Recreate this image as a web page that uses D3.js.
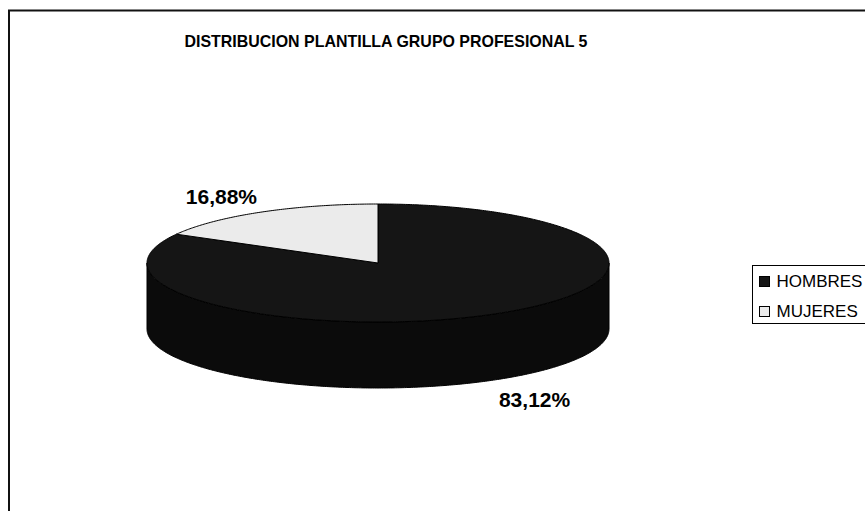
<!DOCTYPE html>
<html>
<head>
<meta charset="utf-8">
<script src="https://cdn.jsdelivr.net/npm/d3@7"></script>
<style>
  body { margin: 0; background: #fff; }
  text { font-family: Arial, "Liberation Sans", sans-serif; }
</style>
</head>
<body>
<script>
var categories = ["HOMBRES", "MUJERES"];
var values = [83.12, 16.88];
var labels = ["83,12%", "16,88%"];
var colors = ["#151515", "#ebebeb"];
var sideColors = ["#0b0b0b", "#c8c8c8"];

var width = 865;
var height = 511;

var svg = d3.select("body").append("svg")
    .attr("width", width)
    .attr("height", height);

// chart frame (runs off the right and bottom edge)
svg.append("rect")
    .attr("x", 9).attr("y", 10.5)
    .attr("width", 900).attr("height", 540)
    .attr("fill", "#fff")
    .attr("stroke", "#111")
    .attr("stroke-width", 2);

svg.append("text")
    .attr("x", 386).attr("y", 46.5)
    .attr("text-anchor", "middle")
    .attr("textLength", 403)
    .attr("lengthAdjust", "spacingAndGlyphs")
    .style("font-size", "17px")
    .style("font-weight", "bold")
    .text("DISTRIBUCION PLANTILLA GRUPO PROFESIONAL 5");

var cx = 378, cy = 263, rx = 231, ry = 59, depth = 66;

var pie = d3.pie().sort(null).value(function(d) { return d; });
var arcs = pie(values);

function pt(a, dy) {
  return [cx + rx * Math.sin(a), cy - ry * Math.cos(a) + (dy || 0)];
}

function arcPoints(a0, a1, dy) {
  var n = Math.max(2, Math.ceil((a1 - a0) / 0.01));
  return d3.range(n + 1).map(function(i) { return pt(a0 + (a1 - a0) * i / n, dy); });
}

var line = d3.line();

function topPath(d) {
  return line([[cx, cy]].concat(arcPoints(d.startAngle, d.endAngle))) + "Z";
}

// outer wall, only the part facing the viewer
function sidePath(d) {
  var a0 = Math.max(d.startAngle, Math.PI / 2);
  var a1 = Math.min(d.endAngle, Math.PI * 3 / 2);
  if (a1 <= a0) return null;
  var up = arcPoints(a0, a1);
  var down = arcPoints(a0, a1, depth).reverse();
  return line(up.concat(down)) + "Z";
}

var g = svg.append("g");

g.selectAll("path.side")
    .data(arcs)
  .enter().append("path")
    .attr("class", "side")
    .attr("d", sidePath)
    .attr("fill", function(d, i) { return sideColors[i]; })
    .attr("stroke", "#000")
    .attr("stroke-width", 1)
    .attr("stroke-linejoin", "round");

g.selectAll("path.top")
    .data(arcs)
  .enter().append("path")
    .attr("class", "top")
    .attr("d", topPath)
    .attr("fill", function(d, i) { return colors[i]; })
    .attr("stroke", "#000")
    .attr("stroke-width", 1)
    .attr("stroke-linejoin", "round");

// percentage labels outside the pie
g.selectAll("text.lbl")
    .data(arcs)
  .enter().append("text")
    .attr("class", "lbl")
    .attr("x", function(d) {
      var a = (d.startAngle + d.endAngle) / 2;
      return cx + rx * 1.34 * Math.sin(a);
    })
    .attr("y", function(d) {
      var a = (d.startAngle + d.endAngle) / 2;
      var y = cy - ry * 1.34 * Math.cos(a);
      if (Math.cos(a) < 0) y += depth;
      return y + 2;
    })
    .attr("dy", "0.36em")
    .attr("text-anchor", "middle")
    .style("font-size", "21px")
    .style("font-weight", "bold")
    .text(function(d, i) { return labels[i]; });

// legend
var legend = svg.append("g").attr("transform", "translate(752.5,265.5)");

legend.append("rect")
    .attr("width", 140).attr("height", 58)
    .attr("fill", "#fff")
    .attr("stroke", "#000");

var item = legend.selectAll("g.item")
    .data(categories)
  .enter().append("g")
    .attr("class", "item")
    .attr("transform", function(d, i) { return "translate(7," + (11 + i * 30) + ")"; });

item.append("rect")
    .attr("width", 10).attr("height", 10)
    .attr("fill", function(d, i) { return colors[i]; })
    .attr("stroke", "#000");

item.append("text")
    .attr("x", 17).attr("y", 10.5)
    .style("font-size", "17px")
    .text(function(d) { return d; });
</script>
</body>
</html>
